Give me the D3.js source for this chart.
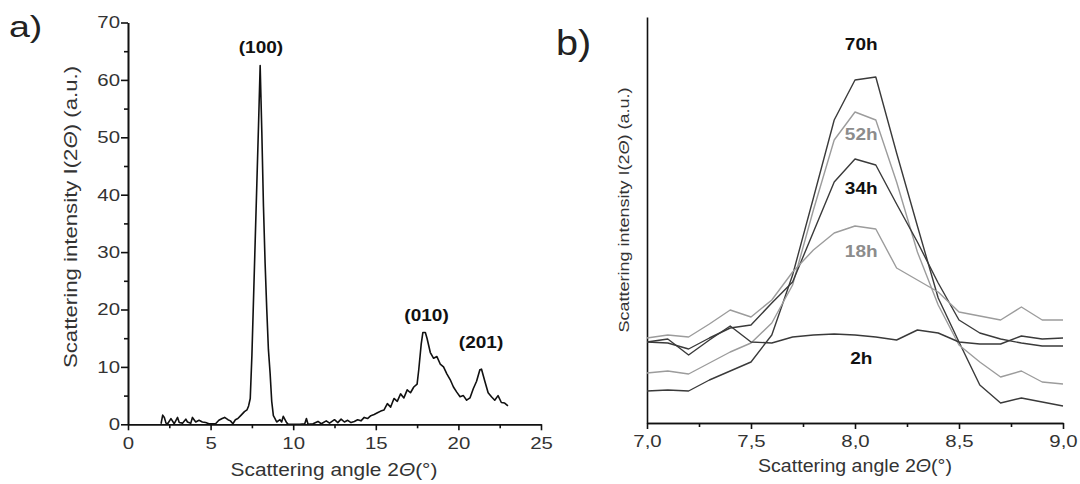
<!DOCTYPE html>
<html>
<head>
  <meta charset="utf-8">
  <title>Scattering intensity</title>
  <script src="https://d3js.org/d3.v7.min.js"></script>
  <style>
    body { margin: 0; background: #fff; }
    svg { font-family: "Liberation Sans", Arial, sans-serif; }
    .axis path, .axis line { stroke: #111; stroke-width: 1.6px; }
    .axis text { fill: #333; font-size: 17px; }
    .curve { fill: none; stroke-linejoin: round; }
  </style>
</head>
<body>
<script>
// panel a: powder pattern, 2theta (deg) vs intensity
var aX = [2.0, 2.1, 2.2, 2.3, 2.4, 2.6, 2.8, 3.0, 3.1, 3.3, 3.5, 3.6, 3.8, 3.9, 4.1, 4.3, 4.5, 4.7, 4.9, 5.1,
  5.3, 5.5, 5.7, 5.85, 6.05, 6.2, 6.35, 6.5, 6.65, 6.85, 7.05, 7.2, 7.3, 7.4, 7.5, 7.6, 7.7, 7.8, 7.9, 8.0,
  8.1, 8.2, 8.3, 8.4, 8.5, 8.6, 8.7, 8.8, 8.9, 9.0, 9.2, 9.3, 9.4, 9.6, 9.7, 10.0, 10.4, 10.7, 10.8, 10.9,
  11.2, 11.5, 11.7, 12.0, 12.2, 12.5, 12.7, 12.9, 13.1, 13.3, 13.5, 13.7, 13.9, 14.1, 14.3, 14.5, 14.7, 14.9, 15.1, 15.3,
  15.5, 15.7, 15.9, 16.1, 16.3, 16.5, 16.7, 16.9, 17.1, 17.3, 17.5, 17.6, 17.75, 17.85, 18.0, 18.1, 18.3, 18.5, 18.7, 18.9,
  19.1, 19.3, 19.5, 19.7, 19.9, 20.1, 20.3, 20.5, 20.7, 20.9, 21.1, 21.3, 21.4, 21.6, 21.8, 22.0, 22.2, 22.4, 22.6, 22.8, 23.0];
var aY = [0.1, 1.6, 1.2, 0.2, 0.1, 1.0, 0.1, 1.2, 0.3, 0.2, 0.9, 0.4, 0.2, 1.2, 0.4, 0.7, 0.4, 0.3, 0.1, 0.1,
  0.1, 0.7, 1.0, 1.2, 0.8, 0.6, 0.1, 0.8, 1.0, 1.6, 2.2, 2.5, 3.2, 4.5, 12.0, 22.0, 32.0, 42.0, 52.0, 62.5,
  51.0, 38.0, 28.0, 20.0, 13.0, 9.0, 4.0, 1.5, 1.0, 0.4, 0.8, 0.4, 1.4, 0.3, 0.0, 0.0, 0.0, 0.1, 1.0, 0.0,
  0.1, 0.5, 0.1, 0.6, 0.2, 0.8, 0.3, 0.9, 0.4, 0.7, 0.3, 0.5, 0.8, 0.6, 1.2, 1.0, 1.5, 1.7, 2.0, 2.3,
  2.5, 3.6, 3.0, 4.5, 4.0, 5.3, 4.6, 6.0, 5.5, 6.5, 7.0, 9.5, 14.0, 16.0, 16.0, 15.0, 12.5, 11.5, 11.8, 10.5,
  10.0, 8.8, 7.8, 6.5, 5.6, 4.8, 5.0, 4.2, 4.6, 6.2, 7.5, 9.5, 9.6, 7.5, 5.5, 4.8, 4.2, 5.0, 3.8, 3.7, 3.2];
var aPeakNames = ['(100)', '(010)', '(201)'];
var aPeakX = [8.05, 18.07, 21.37];
var aPeakY = [64.6, 18.0, 13.3];

// panel b: (100) peak region at different times (arbitrary units)
var bX = [7.0, 7.1, 7.2, 7.3, 7.4, 7.5, 7.6, 7.7, 7.8, 7.9, 8.0, 8.1, 8.2, 8.3, 8.4, 8.5, 8.6, 8.7, 8.8, 8.9, 9.0];
var s70h = [32, 33, 32, 43, 52, 61, 88, 148, 225, 303, 343, 346, 270, 197, 125, 81, 38, 20, 25, 21, 17];
var s52h = [50, 52, 49, 60, 71, 80, 100, 138, 213, 283, 311, 303, 241, 171, 118, 78, 61, 46, 52, 41, 39];
var s34h = [81, 80, 74, 85, 95, 98, 120, 141, 191, 241, 264, 258, 219, 181, 140, 103, 90, 84, 80, 77, 77];
var s18h = [85, 88, 86, 99, 113, 106, 123, 151, 173, 190, 197, 194, 155, 143, 131, 111, 107, 103, 116, 103, 103];
var s2h = [81, 84, 68, 83, 97, 81, 80, 86, 88, 89, 88, 86, 83, 93, 90, 81, 79, 79, 87, 84, 85];
var bNames = ['70h', '52h', '34h', '18h', '2h'];
var bSeries = [s70h, s52h, s34h, s18h, s2h];
var bLineColor = ['#3a3a3a', '#9c9c9c', '#3a3a3a', '#9c9c9c', '#3a3a3a'];
var bTextColor = ['#111', '#8c8c8c', '#111', '#8c8c8c', '#111'];
var bLabelY = [373, 283, 229, 166, 59];

var svg = d3.select('body').append('svg')
  .attr('width', 1080)
  .attr('height', 484);

// text in the original is a bit wider than Arial
function wide(sel, k) {
  sel.attr('transform', function() {
    var t = d3.select(this).attr('transform') || '';
    return t + ' scale(' + k + ',1)';
  });
}

// ---------- panel a ----------
var xA = d3.scaleLinear().domain([0, 25]).range([128, 541]);
var yA = d3.scaleLinear().domain([0, 70]).range([424.3, 22.5]);

svg.append('g').attr('class', 'axis')
  .attr('transform', 'translate(0,' + yA(0) + ')')
  .call(d3.axisBottom(xA).tickValues([2.5, 7.5, 12.5, 17.5, 22.5]).tickSize(4).tickFormat('').tickSizeOuter(0));
var axA = svg.append('g').attr('class', 'axis')
  .attr('transform', 'translate(0,' + yA(0) + ')')
  .call(d3.axisBottom(xA).tickValues([0, 5, 10, 15, 20, 25]).tickSize(6).tickPadding(7).tickSizeOuter(0));
axA.selectAll('text').call(wide, 1.2);

svg.append('g').attr('class', 'axis')
  .attr('transform', 'translate(' + xA(0) + ',0)')
  .call(d3.axisLeft(yA).tickValues(d3.range(5, 70, 10)).tickSize(4).tickFormat('').tickSizeOuter(0));
var ayA = svg.append('g').attr('class', 'axis')
  .attr('transform', 'translate(' + xA(0) + ',0)')
  .call(d3.axisLeft(yA).tickValues(d3.range(0, 71, 10)).tickSize(7).tickPadding(1).tickSizeOuter(0));
ayA.selectAll('text').attr('x', -8 / 1.2).call(wide, 1.2);

var lineA = d3.line()
  .x(function(d, i) { return xA(aX[i]); })
  .y(function(d) { return yA(d); });

svg.append('path')
  .attr('class', 'curve')
  .attr('d', lineA(aY))
  .attr('stroke', '#111')
  .attr('stroke-width', 1.6);

aPeakNames.forEach(function(name, i) {
  svg.append('text')
    .attr('transform', 'translate(' + xA(aPeakX[i]) + ',' + yA(aPeakY[i]) + ')')
    .attr('text-anchor', 'middle')
    .style('font-size', '17px')
    .style('font-weight', 'bold')
    .attr('fill', '#111')
    .text(name)
    .call(wide, 1.12);
});

svg.append('text')
  .attr('transform', 'translate(334,476)')
  .attr('text-anchor', 'middle')
  .style('font-size', '18.5px')
  .attr('fill', '#333')
  .html('Scattering angle 2<tspan font-style="italic">\u0398</tspan>(°)')
  .call(wide, 1.13);

svg.append('text')
  .attr('transform', 'translate(77,217) rotate(-90)')
  .attr('text-anchor', 'middle')
  .style('font-size', '18.5px')
  .attr('fill', '#333')
  .html('Scattering intensity I(2<tspan font-style="italic">\u0398</tspan>) (a.u.)')
  .call(wide, 1.2);

svg.append('text')
  .attr('transform', 'translate(9,37)')
  .style('font-size', '30px')
  .attr('fill', '#222')
  .text('a)')
  .call(wide, 1.25);

// ---------- panel b ----------
var xB = d3.scaleLinear().domain([7, 9]).range([647, 1063]);
var yB = d3.scaleLinear().domain([0, 406]).range([423, 17]);

svg.append('g').attr('class', 'axis')
  .attr('transform', 'translate(0,' + yB(0) + ')')
  .call(d3.axisBottom(xB).tickValues([7.25, 7.75, 8.25, 8.75]).tickSize(4).tickFormat('').tickSizeOuter(0));
var axB = svg.append('g').attr('class', 'axis')
  .attr('transform', 'translate(0,' + yB(0) + ')')
  .call(d3.axisBottom(xB).tickValues([7, 7.5, 8, 8.5, 9]).tickSize(6).tickPadding(6).tickSizeOuter(0)
    .tickFormat(function(d) { return d.toFixed(1).replace('.', ','); }));
axB.selectAll('text').call(wide, 1.2);

svg.append('g').attr('class', 'axis')
  .attr('transform', 'translate(' + xB(7) + ',0)')
  .call(d3.axisLeft(yB).tickValues([]).tickSizeOuter(0));

var lineB = d3.line()
  .x(function(d, i) { return xB(bX[i]); })
  .y(function(d) { return yB(d); });

bSeries.forEach(function(s, i) {
  svg.append('path')
    .attr('class', 'curve')
    .attr('d', lineB(s))
    .attr('stroke', bLineColor[i])
    .attr('stroke-width', 1.4);
});

bNames.forEach(function(name, i) {
  svg.append('text')
    .attr('transform', 'translate(' + xB(8.03) + ',' + yB(bLabelY[i]) + ')')
    .attr('text-anchor', 'middle')
    .style('font-size', '17px')
    .style('font-weight', 'bold')
    .attr('fill', bTextColor[i])
    .text(name)
    .call(wide, 1.12);
});

svg.append('text')
  .attr('transform', 'translate(855,472)')
  .attr('text-anchor', 'middle')
  .style('font-size', '17.5px')
  .attr('fill', '#333')
  .html('Scattering angle 2<tspan font-style="italic">\u0398</tspan>(°)')
  .call(wide, 1.12);

svg.append('text')
  .attr('transform', 'translate(629,210) rotate(-90)')
  .attr('text-anchor', 'middle')
  .style('font-size', '15px')
  .attr('fill', '#333')
  .html('Scattering intensity I(2<tspan font-style="italic">\u0398</tspan>) (a.u.)')
  .call(wide, 1.2);

svg.append('text')
  .attr('transform', 'translate(556,55)')
  .style('font-size', '36px')
  .attr('fill', '#222')
  .text('b)')
  .call(wide, 1.1);
</script>
</body>
</html>
